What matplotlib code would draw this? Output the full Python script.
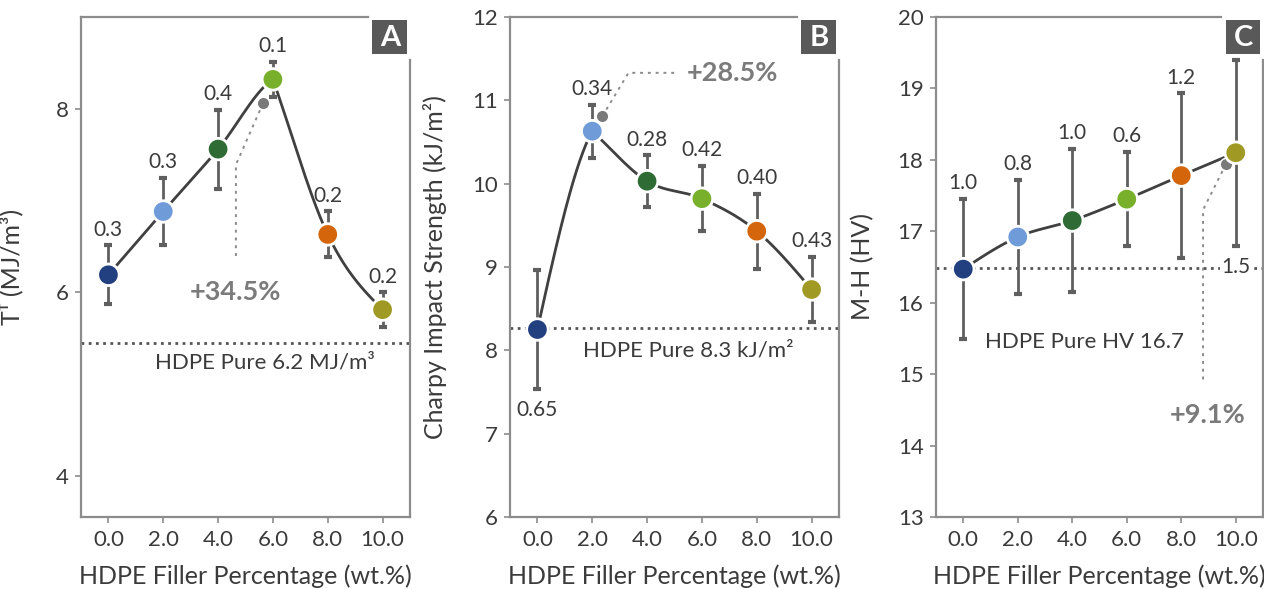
import numpy as np
import matplotlib
matplotlib.use("Agg")
import matplotlib.pyplot as plt
from matplotlib.patches import Rectangle
from matplotlib.lines import Line2D

plt.rcParams['font.family'] = ['Lato', 'DejaVu Sans']

# ---------------- data ----------------
filler = [0.0, 2.0, 4.0, 6.0, 8.0, 10.0]
tick_labels = ["0.0", "2.0", "4.0", "6.0", "8.0", "10.0"]
point_colors = ["#223f80", "#6f9bd8", "#2f6b34", "#78b02c", "#d4650a", "#a09a24"]

# Panel A: toughness
toughness = [6.19, 6.88, 7.56, 8.32, 6.63, 5.81]
toughness_err = [0.32, 0.37, 0.43, 0.19, 0.25, 0.19]
toughness_lbl = ["0.3", "0.3", "0.4", "0.1", "0.2", "0.2"]
toughness_lbl_side = ["above"] * 6
toughness_base = 5.45
toughness_base_txt = "HDPE Pure 6.2 MJ/m³"
toughness_gain = "+34.5%"

# Panel B: Charpy impact strength
charpy = [8.25, 10.63, 10.03, 9.82, 9.43, 8.73]
charpy_err = [0.71, 0.32, 0.31, 0.39, 0.45, 0.39]
charpy_lbl = ["0.65", "0.34", "0.28", "0.42", "0.40", "0.43"]
charpy_lbl_side = ["below", "above", "above", "above", "above", "above"]
charpy_base = 8.27
charpy_base_txt = "HDPE Pure 8.3 kJ/m²"
charpy_gain = "+28.5%"

# Panel C: micro-hardness
hardness = [16.47, 16.92, 17.15, 17.45, 17.78, 18.10]
hardness_err = [0.98, 0.80, 1.00, 0.66, 1.15, 1.30]
hardness_lbl = ["1.0", "0.8", "1.0", "0.6", "1.2", "1.5"]
hardness_lbl_side = ["above", "above", "above", "above", "above", "below"]
hardness_base = 16.48
hardness_base_txt = "HDPE Pure HV 16.7"
hardness_gain = "+9.1%"

# annotation leaders: (gray dot, knee, end) in data coords
lead_A = [(5.64, 8.06), (4.65, 7.39), (4.65, 6.38)]
lead_B = [(2.37, 10.81), (3.32, 11.33), (5.07, 11.33)]
lead_C = [(9.64, 17.94), (8.80, 17.30), (8.80, 14.89)]

GRAY_SPINE = "#8c8c8c"
TXT = "#3b3b3b"
LINE = "#404040"
ERR = "#5f5f5f"


def smooth_curve(x, y, n=50):
    """Piecewise cubic Hermite: Catmull-Rom tangents, kinked at local extrema."""
    x = np.asarray(x, float); y = np.asarray(y, float)
    k = len(x)
    d = np.diff(y) / np.diff(x)
    mL = np.zeros(k); mR = np.zeros(k)
    for i in range(1, k - 1):
        if d[i - 1] * d[i] < 0:          # extremum -> kink
            mL[i] = 0.5 * d[i - 1]
            mR[i] = d[i]
        else:
            mL[i] = mR[i] = 0.5 * (d[i - 1] + d[i])
    mR[0] = 1.5 * d[0] - 0.5 * mL[1]
    mL[-1] = 1.5 * d[-1] - 0.5 * mR[-2]
    xs, ys = [], []
    for i in range(k - 1):
        h = x[i + 1] - x[i]
        t = np.linspace(0, 1, n)
        h00 = 2 * t**3 - 3 * t**2 + 1
        h10 = t**3 - 2 * t**2 + t
        h01 = -2 * t**3 + 3 * t**2
        h11 = t**3 - t**2
        yy = h00 * y[i] + h10 * h * mR[i] + h01 * y[i + 1] + h11 * h * mL[i + 1]
        xs.append(x[i] + t * h); ys.append(yy)
    return np.concatenate(xs), np.concatenate(ys)


fig = plt.figure(figsize=(12.64, 5.89), dpi=100)
W, H = 1264, 589
ax_boxes = [(81, 410), (510, 839), (936, 1263)]
top_px, bot_px = 17, 517

panels = [
    dict(y=toughness, e=toughness_err, lbl=toughness_lbl, side=toughness_lbl_side,
         base=toughness_base, base_txt=toughness_base_txt, base_xy=(5.7, 5.23),
         gain=toughness_gain, gain_xy=(4.65, 6.0), gain_ha='center', lead=lead_A,
         ylim=(3.55, 9.0), yticks=[4, 6, 8], ylabel="Tᵀ (MJ/m³)", letter="A", ylx=-0.175),
    dict(y=charpy, e=charpy_err, lbl=charpy_lbl, side=charpy_lbl_side,
         base=charpy_base, base_txt=charpy_base_txt, base_xy=(5.5, 8.0),
         gain=charpy_gain, gain_xy=(5.45, 11.33), gain_ha='left', lead=lead_B,
         ylim=(6, 12), yticks=[6, 7, 8, 9, 10, 11, 12],
         ylabel="Charpy Impact Strength (kJ/m²)", letter="B", ylx=-0.19),
    dict(y=hardness, e=hardness_err, lbl=hardness_lbl, side=hardness_lbl_side,
         base=hardness_base, base_txt=hardness_base_txt, base_xy=(4.45, 15.45),
         gain=hardness_gain, gain_xy=(8.98, 14.43), gain_ha='center', lead=lead_C,
         ylim=(13, 20), yticks=[13, 14, 15, 16, 17, 18, 19, 20],
         ylabel="M-H (HV)", letter="C", ylx=-0.19),
]

for (l, r), p in zip(ax_boxes, panels):
    ax = fig.add_axes([l / W, (H - bot_px) / H, (r - l) / W, (bot_px - top_px) / H])
    ax.set_xlim(-1, 11)
    ax.set_ylim(*p['ylim'])
    ax.set_xticks(filler)
    ax.set_xticklabels(tick_labels)
    ax.set_yticks(p['yticks'])
    ax.tick_params(axis='both', colors=GRAY_SPINE, labelcolor=TXT, labelsize=16,
                   length=4, width=1.2, pad=5)
    for s in ['top', 'right']:
        ax.spines[s].set_visible(False)
    for s in ['left', 'bottom']:
        ax.spines[s].set_color(GRAY_SPINE)
        ax.spines[s].set_linewidth(1.6)
    # broken top / right spines around the panel letter
    ax.add_line(Line2D([0, 0.873], [1, 1], transform=ax.transAxes, color=GRAY_SPINE,
                       lw=1.6, clip_on=False))
    ax.add_line(Line2D([1, 1], [0, 0.915], transform=ax.transAxes, color=GRAY_SPINE,
                       lw=1.6, clip_on=False))
    ax.add_patch(Rectangle((0.886, 0.926), 0.106, 0.068, transform=ax.transAxes,
                           facecolor="#595959", edgecolor='none', clip_on=False, zorder=6))
    ax.text(0.939, 0.958, p['letter'], transform=ax.transAxes, ha='center', va='center',
            color='white', fontsize=21, fontweight='bold', zorder=7)

    ax.set_xlabel("HDPE Filler Percentage (wt.%)", fontsize=18, color=TXT, labelpad=11)
    ax.set_ylabel(p['ylabel'], fontsize=18, color=TXT, family=['Lato', 'DejaVu Sans'])
    ax.yaxis.set_label_coords(p['ylx'], 0.5)

    # baseline
    ax.plot([-1, 11], [p['base'], p['base']], ls=(0, (1, 1.6)), color="#555555", lw=2,
            zorder=1, clip_on=False)
    ax.text(p['base_xy'][0], p['base_xy'][1], p['base_txt'], ha='center', va='center',
            fontsize=16, color=TXT)

    # leader annotation
    lx = [q[0] for q in p['lead']]
    ly = [q[1] for q in p['lead']]
    ax.plot(lx, ly, ls=(0, (1.5, 2.5)), color="#8a8a8a", lw=1.4, zorder=2)
    ax.plot(lx[0], ly[0], 'o', ms=9, color="#7a7a7a", mec='white', mew=1, zorder=5)
    ax.text(p['gain_xy'][0], p['gain_xy'][1], p['gain'], ha=p['gain_ha'], va='center',
            fontsize=19.5, fontweight='bold', color="#7b7b7b")

    # smoothed line
    sx, sy = smooth_curve(filler, p['y'])
    ax.plot(sx, sy, color=LINE, lw=2, zorder=3)

    # error bars
    ax.errorbar(filler, p['y'], yerr=p['e'], fmt='none', ecolor=ERR, elinewidth=2,
                capsize=3, capthick=3, zorder=3.5)
    # markers
    ax.scatter(filler, p['y'], s=240, c=point_colors, edgecolors='white', linewidths=2,
               zorder=5)

    # sd labels
    for xi, yi, ei, t, sd in zip(filler, p['y'], p['e'], p['lbl'], p['side']):
        if sd == 'above':
            ax.annotate(t, (xi, yi + ei), xytext=(0, 7), textcoords='offset points',
                        ha='center', va='baseline', fontsize=15, color=TXT)
        else:
            ax.annotate(t, (xi, yi - ei), xytext=(0, -8), textcoords='offset points',
                        ha='center', va='top', fontsize=15, color=TXT,
                        bbox=dict(facecolor='white', edgecolor='none', pad=1), zorder=4)

fig.savefig("out.png", dpi=100)
